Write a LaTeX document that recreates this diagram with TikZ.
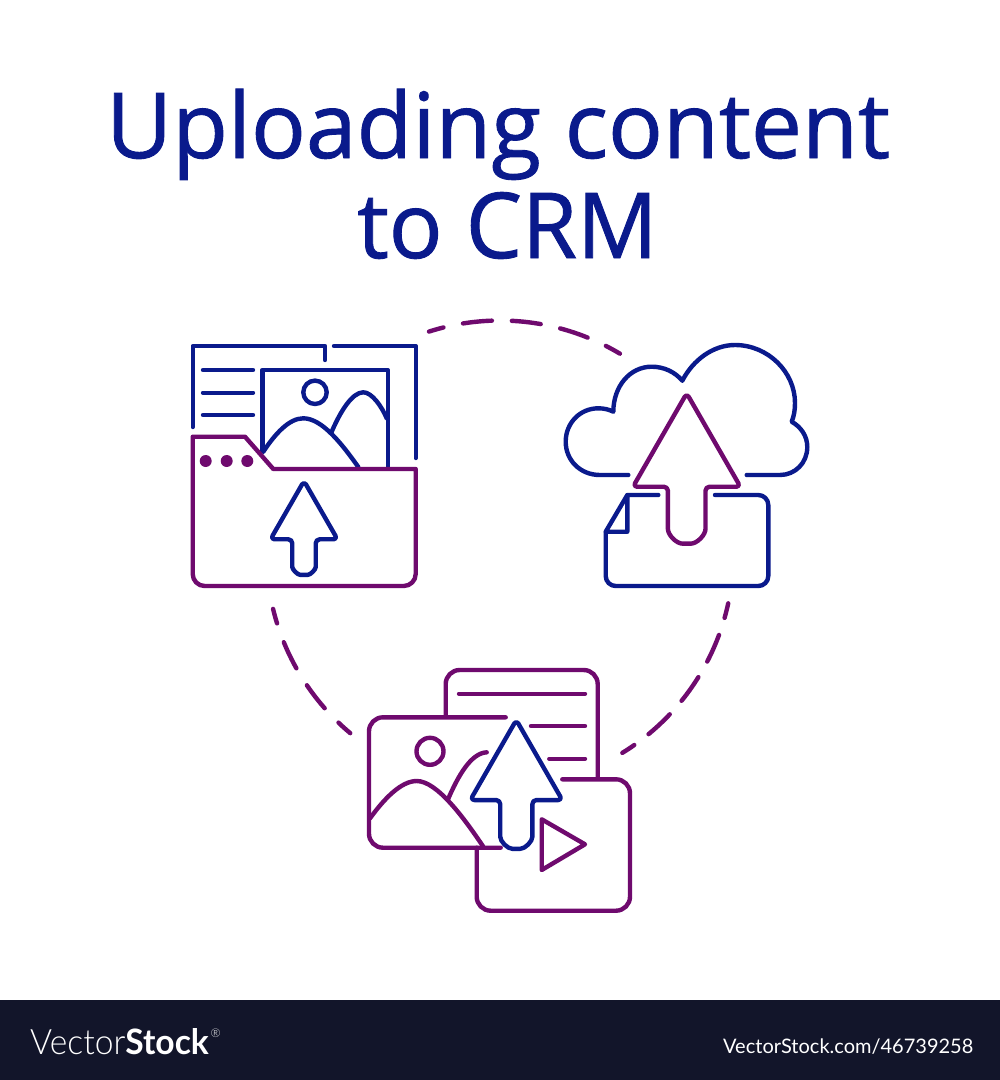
\documentclass[tikz,border=0pt]{standalone}
\usepackage{fontspec}
\setmainfont{Open Sans}
\newfontfamily\titlefont{Open Sans}[FakeBold=1]
\newfontfamily\lightfont{Lato Light}
\newfontfamily\boldfont{Lato}
\definecolor{titleblue}{HTML}{0A1A8C}
\definecolor{iconblue}{HTML}{0A1A8C}
\definecolor{iconpurple}{HTML}{6F0A6E}
\definecolor{barcolor}{HTML}{12152A}
\tikzset{
	bluestroke/.style={color=iconblue,line width=4.4pt,line cap=round,line join=round},
	purplestroke/.style={color=iconpurple,line width=4.4pt,line cap=round,line join=round},
	titletext/.style={color=titleblue,inner sep=0,anchor=base,font=\titlefont\fontsize{91}{91}\selectfont},
	marktext/.style={color=white,inner sep=0,anchor=base west},
	uploadarrow/.pic={
		\draw[rounded corners=4pt] (0,0) -- (-1,1.74) -- (-.35,1.74) -- (-.35,2.45)
			.. controls (-.35,2.64) and (-.19,2.8) .. (0,2.8)
			.. controls (.19,2.8) and (.35,2.64) .. (.35,2.45)
			-- (.35,1.74) -- (1,1.74) -- cycle;
	}
}
\begin{document}
\begin{tikzpicture}[x=1pt,y=-1pt]
\useasboundingbox (0,0) rectangle (1000,1080);
\fill[white] (0,0) rectangle (1000,1080);
\node[titletext] (titleone) at (498,158) {Uploading content};
\node[titletext,xscale=.98] (titletwo) at (507.5,258) {to CRM};
% dashed ring
\draw[purplestroke,dash pattern=on 29pt off 20pt,dash phase=14pt] plot[domain=107.7:59.1,samples=40] ({500+233.5*cos(\x)},{554-233.5*sin(\x)});
\draw[purplestroke,dash pattern=on 29pt off 20pt,dash phase=14pt] plot[domain=193.6:230.1,samples=40] ({500+233.5*cos(\x)},{554-233.5*sin(\x)});
\draw[purplestroke,dash pattern=on 29pt off 18pt,dash phase=14pt] plot[domain=-12.2:-58.4,samples=40] ({500+233.5*cos(\x)},{554-233.5*sin(\x)});
% folder
\begin{scope}[bluestroke]
	\draw (192.7,427) -- (192.7,346) -- (325,346) -- (325,360);
	\draw (334,346) -- (415.7,346) -- (415.7,458);
	\foreach \y in {370,392.7,415}
		\draw (203,\y) -- (253,\y);
	\draw (262.3,451) -- (262.3,370) -- (387.7,370) -- (387.7,467);
	\draw (315,392.3) circle[radius=11.7pt];
	\draw (263.3,451.7) .. controls (275,434) and (289,418.3) .. (303.3,418.3)
		.. controls (322,418.3) and (342,444) .. (358.3,467);
	\draw (331,433.3) .. controls (340,412) and (352,392.3) .. (363.3,392.3)
		.. controls (372,392.3) and (382,407) .. (386.7,418.3);
\end{scope}
\draw[purplestroke] (192.7,436.7) -- (245,436.7) -- (273.3,469) -- (415.7,469) [rounded corners=12pt] -- (415.7,586) -- (192.7,586) [sharp corners] -- cycle;
\foreach \x in {205.7,226.7,247.3}
	\fill[iconpurple] (\x,461) circle[radius=6pt];
\pic[bluestroke,scale=33.5] at (304,481) {uploadarrow};
% cloud
\draw[bluestroke] (628.3,475) -- (600,475) .. controls (580,475) and (565.7,460) .. (565.7,441.7)
	.. controls (565.7,423) and (580,408.3) .. (598.3,408.3)
	.. controls (604,408.3) and (609,409.5) .. (613.3,411.7)
	.. controls (613.5,386) and (630,366.7) .. (651.7,366.7)
	.. controls (664,366.7) and (675,372) .. (682.3,380.7)
	.. controls (693,360) and (713,345) .. (735,345)
	.. controls (768,345) and (795,372) .. (795,403)
	.. controls (795,410) and (794,416) .. (791.7,421.7)
	.. controls (801,427) and (807.3,436) .. (807.3,447)
	.. controls (807.3,463) and (795,475) .. (780,475) -- (746.7,475);
\draw[bluestroke] (658.3,495) -- (627.3,495) -- (605.7,531.7) -- (627.3,531.7) -- (627.3,495);
\draw[bluestroke,rounded corners=10pt] (605.7,531.7) -- (605.7,586) -- (768.3,586) -- (768.3,495) -- (715,495);
\pic[purplestroke,scale=53.7] at (686.7,393.3) {uploadarrow};
% media stack
\begin{scope}[purplestroke]
	\draw[rounded corners=14pt] (445.7,716.7) -- (445.7,670) -- (597.7,670) -- (597.7,778);
	\draw (459,693.7) -- (585,693.7);
	\draw (531,726) -- (585,726);
	\draw (549.3,758.7) -- (585,758.7);
	\draw[rounded corners=14pt] (505.7,717.3) -- (369,717.3) -- (369,847.7) -- (500.7,847.7);
	\draw (430,751.3) circle[radius=13.5pt];
	\draw (370,818.3) .. controls (384,799) and (401,781) .. (416.7,781)
		.. controls (437,781) and (464,818) .. (483.3,846.7);
	\draw (447.7,800) .. controls (458,776) and (471,753) .. (486.7,752.3);
	\draw[rounded corners=14pt] (562.3,779.3) -- (630,779.3) -- (630,910.7) -- (476.7,910.7) -- (476.7,847.7);
	\draw (541.7,819.3) -- (585,844.3) -- (541.7,870) -- cycle;
\end{scope}
\pic[bluestroke,scale=46] at (516.3,720) {uploadarrow};
% bottom bar
\fill[barcolor] (0,1000) rectangle (1000,1080);
\node[marktext,font=\fontsize{35}{35}\selectfont,xscale=.96] (brand) at (30,1054) {\lightfont Vector\boldfont\textbf{Stock}};
\node[marktext,font=\fontsize{12}{12}\selectfont] (regmark) at (210.5,1037) {\lightfont ®};
\node[marktext,font=\fontsize{20}{20}\selectfont] (stockurl) at (723,1053) {\boldfont VectorStock.com/46739258};
\end{tikzpicture}
\end{document}
